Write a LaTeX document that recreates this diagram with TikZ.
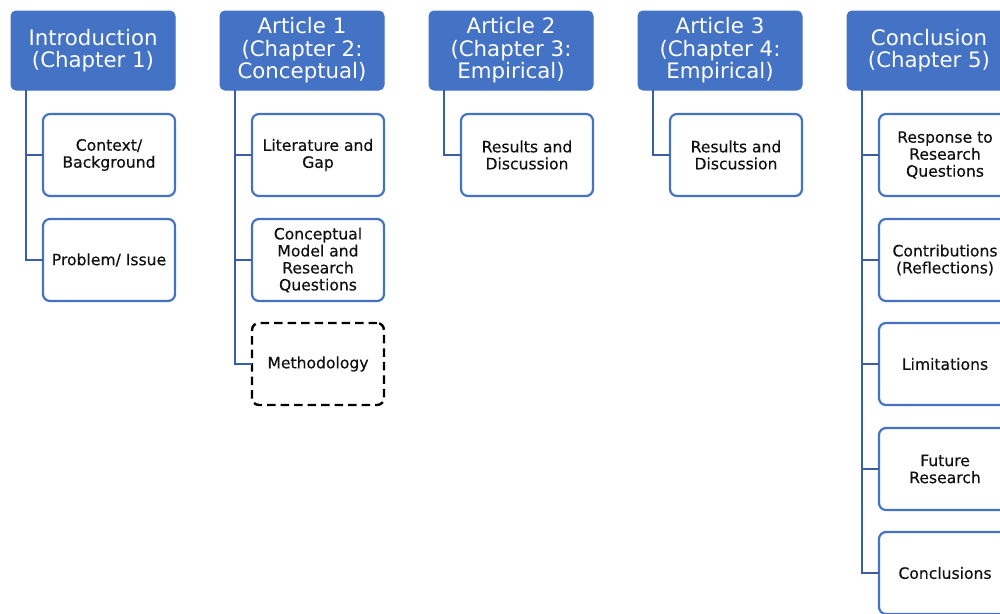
\documentclass[tikz,border=0pt]{standalone}
\usepackage{fontspec}
\setmainfont{DejaVu Sans}
\newfontfamily\leaffont[FakeBold=0.4]{DejaVu Sans}
\definecolor{hdrblue}{HTML}{4472C4}
\definecolor{linkblue}{HTML}{3A5DA6}
\definecolor{leaftext}{HTML}{111111}
\begin{document}
\begin{tikzpicture}[x=1pt,y=-1pt,
  hdr/.style={draw=hdrblue, fill=hdrblue, line width=1pt, rounded corners=5pt,
    minimum width=164pt, minimum height=79pt, inner sep=0pt, outer sep=0pt,
    anchor=north west, align=center, text=white,
    font=\fontsize{21.3}{22.5}\selectfont},
  leaf/.style={draw=hdrblue, fill=white, line width=2.2pt, rounded corners=7pt,
    minimum width=132pt, minimum height=82pt, inner sep=0pt, outer sep=0pt,
    anchor=north west, align=center, text=leaftext,
    font=\leaffont\fontsize{15.6}{17}\selectfont},
  dashleaf/.style={leaf, draw=black, line width=2.4pt, dash pattern=on 8.5pt off 5pt},
  link/.style={draw=linkblue, line width=2pt}]
\useasboundingbox (0,0) rectangle (1000,613);
\clip (0,0) rectangle (1000,613);

% chapter headers
\node[hdr] (h1) at (11,11)  {Introduction\\(Chapter 1)};
\node[hdr] (h2) at (220,11) {Article 1\\(Chapter 2:\\Conceptual)};
\node[hdr] (h3) at (429,11) {Article 2\\(Chapter 3:\\Empirical)};
\node[hdr] (h4) at (638,11) {Article 3\\(Chapter 4:\\Empirical)};
\node[hdr] (h5) at (847,11) {Conclusion\\(Chapter 5)};

% introduction
\node[leaf] (c11) at (43,114) {Context/\\Background};
\node[leaf] (c12) at (43,219) {Problem/ Issue};

% article 1
\node[leaf] (c21) at (252,114) {Literature and\\Gap};
\node[leaf] (c22) at (252,219) {Conceptual\\Model and\\Research\\Questions};
\node[dashleaf] (c23) at (252,323) {Methodology};

% article 2 and 3
\node[leaf] (c31) at (461,114) {Results and\\Discussion};
\node[leaf] (c41) at (670,114) {Results and\\Discussion};

% conclusion
\node[leaf] (c51) at (879,114) {Response to\\Research\\Questions};
\node[leaf] (c52) at (879,219) {Contributions\\(Reflections)};
\node[leaf] (c53) at (879,323) {Limitations};
\node[leaf] (c54) at (879,428) {Future\\Research};
\node[leaf] (c55) at (879,532) {Conclusions};

% connectors
\foreach \h/\c in {h1/c11,h1/c12,h2/c21,h2/c22,h2/c23,h3/c31,h4/c41,
                   h5/c51,h5/c52,h5/c53,h5/c54,h5/c55}
  \draw[link] ([xshift=15pt]\h.south west) |- (\c.west);
\end{tikzpicture}
\end{document}
